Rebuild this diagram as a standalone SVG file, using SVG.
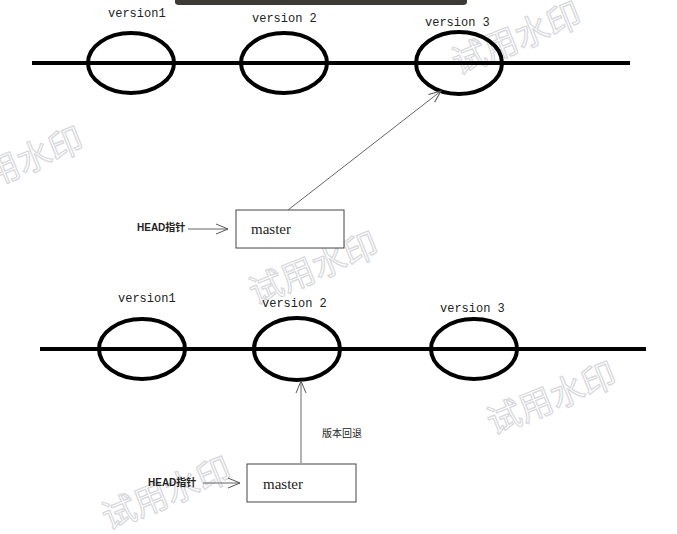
<svg xmlns="http://www.w3.org/2000/svg" width="677" height="534" viewBox="0 0 677 534">
<style>
.tl{stroke:#000;stroke-width:4;fill:none}
.ver{stroke:#000;stroke-width:4;fill:none}
.lbl{font-family:"Liberation Mono","DejaVu Sans Mono",monospace;font-size:12px;fill:#222}
.box{fill:#fff;stroke:#444;stroke-width:1}
.mst{font-family:"Liberation Serif",serif;font-size:15px;fill:#222}
.head{font-family:"Liberation Sans","Noto Sans CJK SC",sans-serif;font-size:10px;font-weight:bold;fill:#222}
.cn{font-family:"Noto Sans CJK SC",sans-serif;font-size:10px;fill:#222}
.conn{stroke:#666;stroke-width:1;fill:none}
.wm{font-family:"Noto Sans CJK SC",sans-serif;font-size:34px;fill:#fff;stroke:#d4d4d8;stroke-width:1.2;opacity:0.9}
</style>
<defs>
<marker id="open" markerWidth="14" markerHeight="12" refX="13" refY="6" orient="auto" markerUnits="userSpaceOnUse">
<path d="M1,1 L13,6 L1,11" fill="none" stroke="#555" stroke-width="1"/>
</marker>
</defs>
<rect width="677" height="534" fill="#fff"/>
<path d="M175,0 H467 V2 Q467,5 463,5 H179 Q175,5 175,2 Z" fill="#3b3a34"/>

<g id="watermarks">
<text class="wm" x="458" y="75" transform="rotate(-22 458 75)">试用水印</text>
<text class="wm" x="-40" y="200" transform="rotate(-22 -40 200)">试用水印</text>
<text class="wm" x="255" y="305" transform="rotate(-22 255 305)">试用水印</text>
<text class="wm" x="493" y="435" transform="rotate(-22 493 435)">试用水印</text>
<text class="wm" x="108" y="530" transform="rotate(-22 108 530)">试用水印</text>
</g>

<g id="timeline-top">
<line class="tl" x1="32" y1="63" x2="630" y2="63"/>
</g>
<g id="top-v1"><ellipse class="ver" cx="131" cy="63" rx="43" ry="30"/><text class="lbl" x="108" y="17">version1</text></g>
<g id="top-v2"><ellipse class="ver" cx="284" cy="63" rx="43" ry="30"/><text class="lbl" x="252" y="22">version 2</text></g>
<g id="top-v3"><ellipse class="ver" cx="459" cy="63" rx="43" ry="31"/><text class="lbl" x="425" y="26">version 3</text></g>
<g id="top-master"><rect class="box" x="236" y="210" width="108" height="38"/><text class="mst" x="251" y="234">master</text></g>
<g id="top-head"><text class="head" x="137" y="231">HEAD指针</text></g>

<g id="timeline-bottom">
<line class="tl" x1="40" y1="349" x2="646" y2="349"/>
</g>
<g id="bot-v1"><ellipse class="ver" cx="142" cy="349" rx="43" ry="30"/><text class="lbl" x="118" y="302">version1</text></g>
<g id="bot-v2"><ellipse class="ver" cx="297" cy="349" rx="43" ry="31"/><text class="lbl" x="262" y="307">version 2</text></g>
<g id="bot-v3"><ellipse class="ver" cx="474" cy="349" rx="43" ry="30"/><text class="lbl" x="440" y="312">version 3</text></g>
<g id="bot-master"><rect class="box" x="247" y="464" width="109" height="38"/><text class="mst" x="263" y="489">master</text></g>
<g id="bot-head"><text class="head" x="148" y="486">HEAD指针</text></g>
<g id="bot-label"><text class="cn" x="322" y="437">版本回退</text></g>

<g id="connectors">
<line class="conn" x1="288" y1="210" x2="441" y2="91" marker-end="url(#open)"/>
<line class="conn" x1="188" y1="229" x2="228" y2="229" marker-end="url(#open)"/>
<line class="conn" x1="301" y1="463" x2="301" y2="381" marker-end="url(#open)"/>
<line class="conn" x1="203" y1="483" x2="240" y2="483" marker-end="url(#open)"/>
</g>
</svg>
